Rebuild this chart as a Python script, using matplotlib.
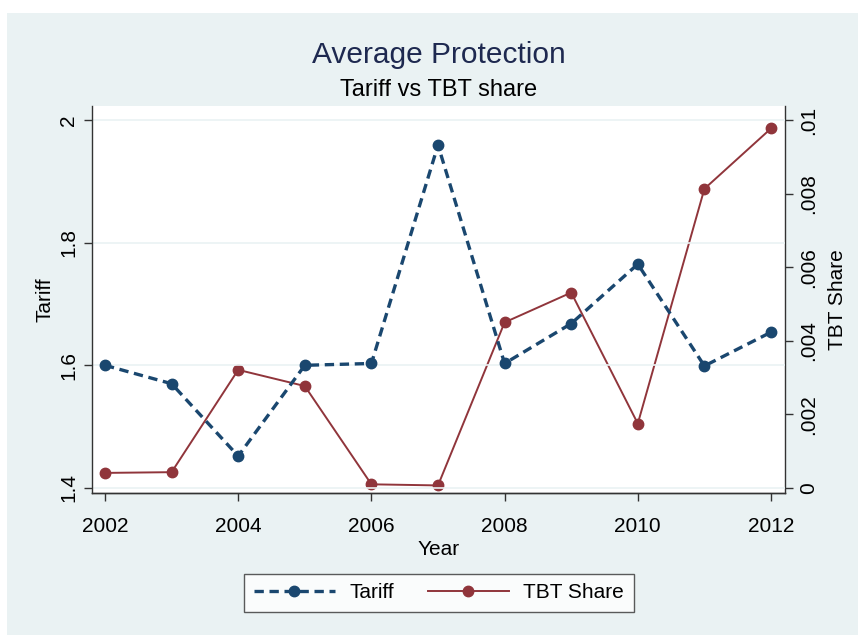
import matplotlib.pyplot as plt
from matplotlib.patches import Rectangle
from matplotlib.lines import Line2D

plt.rcParams['font.family'] = ['Liberation Sans', 'DejaVu Sans']

# --- data ---
years = [2002, 2003, 2004, 2005, 2006, 2007, 2008, 2009, 2010, 2011, 2012]
tariff = [1.600, 1.570, 1.452, 1.600, 1.603, 1.959, 1.603, 1.668, 1.765, 1.599, 1.654]
tbt_share = [0.00041, 0.00043, 0.00321, 0.00277, 0.00010, 0.00007,
             0.00450, 0.00531, 0.00175, 0.00813, 0.00977]

left_ticks = [1.4, 1.6, 1.8, 2.0]
left_labels = ['1.4', '1.6', '1.8', '2']
right_ticks = [0, 0.002, 0.004, 0.006, 0.008, 0.01]
right_labels = ['0', '.002', '.004', '.006', '.008', '.01']
x_ticks = [2002, 2004, 2006, 2008, 2010, 2012]

NAVY = '#1a476f'
MAROON = '#90353b'
BG = '#eaf2f3'
SPINE = '#333333'

W, H = 858, 635
fig = plt.figure(figsize=(W / 100, H / 100), dpi=100)
# outer (graph region) background
fig.patches.append(Rectangle((7 / W, 0), 1 - 7 / W, 1 - 13 / H,
                             transform=fig.transFigure, facecolor=BG,
                             edgecolor='none', zorder=-10))

ax_pos = [92 / W, 1 - 493 / H, (785 - 92) / W, (493 - 106) / H]
# white plot region behind both axes
fig.patches.append(Rectangle(ax_pos[:2], ax_pos[2], ax_pos[3],
                             transform=fig.transFigure, facecolor='white',
                             edgecolor='none', zorder=-5))

# right axis (TBT share) below, left axis (tariff) on top
ax2 = fig.add_axes(ax_pos)
ax = fig.add_axes(ax_pos, sharex=ax2)
ax2.yaxis.tick_right()
ax2.yaxis.set_label_position('right')
ax.patch.set_visible(False)
ax2.patch.set_visible(False)

ax.set_xlim(2001.805, 2012.21)
ax.set_ylim(1.3918, 2.0228)
ax2.set_ylim(-0.000136, 0.01038)

for y in left_ticks:
    ax.axhline(y, color=BG, linewidth=1.2, zorder=0)

ax2.plot(years, tbt_share, color=MAROON, linewidth=1.4,
         marker='o', markersize=7.5, zorder=3)
ax.plot(years, tariff, color=NAVY, linewidth=2.4, linestyle=(0, (2.8, 1.7)),
        marker='o', markersize=7.5, zorder=3)

ax.set_xticks(x_ticks)
ax.set_xticklabels([str(x) for x in x_ticks])
ax.set_yticks(left_ticks)
ax.set_yticklabels(left_labels, rotation=90, va='center')
ax2.set_yticks(right_ticks)
ax2.set_yticklabels(right_labels, rotation=90, va='center')
ax2.tick_params(axis='x', bottom=False, labelbottom=False)

for a in (ax, ax2):
    for s in a.spines.values():
        s.set_color(SPINE)
        s.set_linewidth(1.0)
    a.spines['top'].set_visible(False)
    a.tick_params(length=6, width=1.0, color=SPINE, labelsize=15, pad=4)
ax.spines['right'].set_visible(False)
ax2.spines['left'].set_visible(False)
ax.tick_params(axis='x', pad=11)

ax.set_xlabel('Year', fontsize=15, labelpad=3)
ax.set_ylabel('Tariff', fontsize=15, labelpad=3)
ax2.set_ylabel('TBT Share', fontsize=15, labelpad=7)

fig.text(439 / W, 1 - 55 / H, 'Average Protection', ha='center', va='center',
         fontsize=21.5, color='#1e2950')
fig.text(439 / W, 1 - 90 / H, 'Tariff vs TBT share', ha='center', va='center',
         fontsize=17, color='black')

handles = [
    Line2D([], [], color=NAVY, linewidth=2.4, linestyle=(0, (2.8, 1.7)),
           marker='o', markersize=7.5),
    Line2D([], [], color=MAROON, linewidth=1.4, marker='o', markersize=7.5),
]
leg = fig.legend(handles, ['Tariff', 'TBT Share'], loc='center',
                 bbox_to_anchor=(439 / W, 1 - 593 / H), ncol=2, fontsize=15,
                 frameon=True, fancybox=False, handlelength=3.9,
                 handletextpad=0.7, columnspacing=1.6, borderpad=0.45)
leg.get_frame().set_edgecolor(SPINE)
leg.get_frame().set_linewidth(1.0)

fig.savefig('out.png', dpi=100)
